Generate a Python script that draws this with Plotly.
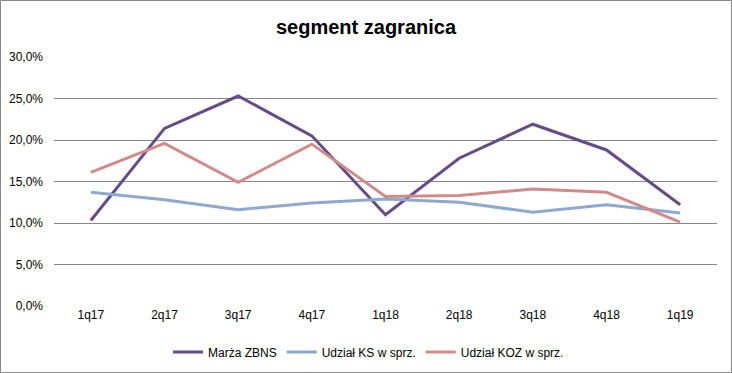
import plotly.graph_objects as go

categories = ["1q17", "2q17", "3q17", "4q17", "1q18", "2q18", "3q18", "4q18", "1q19"]
marza_zbns = [10.3, 21.4, 25.3, 20.5, 11.0, 17.8, 21.9, 18.8, 12.2]
udzial_ks = [13.7, 12.8, 11.6, 12.4, 12.9, 12.5, 11.3, 12.2, 11.2]
udzial_koz = [16.1, 19.6, 14.9, 19.5, 13.2, 13.3, 14.1, 13.7, 10.1]
y_ticks = [0, 5, 10, 15, 20, 25, 30]
y_tick_labels = ["0,0%", "5,0%", "10,0%", "15,0%", "20,0%", "25,0%", "30,0%"]

font = "Liberation Sans, Arial, sans-serif"

fig = go.Figure()
fig.add_trace(go.Scatter(x=categories, y=marza_zbns, mode="lines", name="Marża ZBNS",
                         line=dict(color="#654B87", width=3)))
fig.add_trace(go.Scatter(x=categories, y=udzial_ks, mode="lines", name="Udział KS w sprz.",
                         line=dict(color="#8EA8D0", width=3)))
fig.add_trace(go.Scatter(x=categories, y=udzial_koz, mode="lines", name="Udział KOZ w sprz.",
                         line=dict(color="#D08C8A", width=3)))

W, H = 732, 373
l, r, t, b = 54, 15, 57, 67
pw, ph = W - l - r, H - t - b

fig.update_layout(
    width=W, height=H,
    margin=dict(l=l, r=r, t=t, b=b, autoexpand=False),
    paper_bgcolor="white", plot_bgcolor="white",
    font=dict(family=font, size=12, color="#000000"),
    title=dict(text="<b>segment zagranica</b>", x=0.5, xanchor="center", y=1 - 27 / H, yanchor="middle",
               font=dict(family=font, size=20, color="#000000")),
    showlegend=True,
    legend=dict(orientation="h", x=0.5 - 17 / pw, xanchor="center", y=-(352 - 306) / ph, yanchor="middle",
                font=dict(family=font, size=12), itemwidth=30, tracegroupgap=0),
    xaxis=dict(type="category", range=[-0.5, len(categories) - 0.5], showgrid=False, showline=False,
               zeroline=False, ticks="", tickfont=dict(size=12)),
    yaxis=dict(range=[0, 30], tickvals=y_ticks, ticktext=y_tick_labels, showgrid=True,
               gridcolor="#868686", gridwidth=1, zeroline=False, showline=False, ticks="",
               ticklabelstandoff=10, tickfont=dict(size=12)),
    shapes=[dict(type="rect", xref="paper", yref="paper",
                 x0=(0.5 - l) / pw, x1=(W - 0.5 - l) / pw,
                 y0=-(b - 0.5) / ph, y1=(ph + t - 0.5) / ph,
                 line=dict(color="#888888", width=1), fillcolor="rgba(0,0,0,0)", layer="below")],
)

fig.write_html("out.html", config={"displayModeBar": False},
               post_script="document.body.style.margin='0';document.body.style.overflow='hidden';")
